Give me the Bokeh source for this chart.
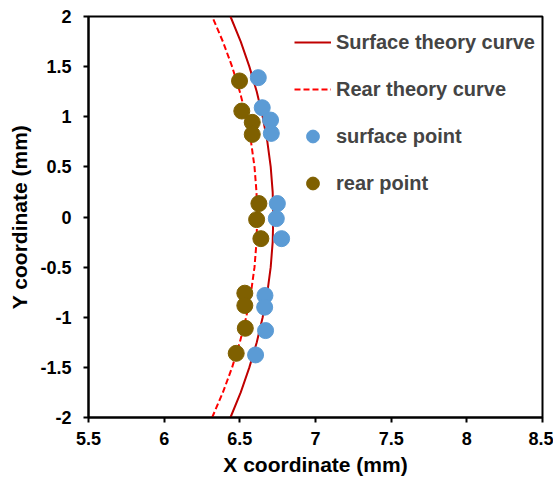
from bokeh.plotting import figure
from bokeh.models import FixedTicker, Legend
from bokeh.embed import file_html
from bokeh.resources import INLINE

# ---- data ----
curve_y = [-2.0, -1.75, -1.5, -1.25, -1.0, -0.75, -0.5, -0.25, 0.0,
           0.25, 0.5, 0.75, 1.0, 1.25, 1.5, 1.75, 2.0]
surface_curve_x = [6.438, 6.506, 6.563, 6.612, 6.651, 6.682, 6.704, 6.717, 6.721,
                   6.717, 6.704, 6.682, 6.651, 6.612, 6.563, 6.506, 6.438]
rear_curve_x = [6.317, 6.388, 6.449, 6.500, 6.542, 6.574, 6.597, 6.610, 6.615,
                6.610, 6.597, 6.574, 6.542, 6.500, 6.449, 6.388, 6.317]

surface_pt_x = [6.622, 6.648, 6.703, 6.708, 6.748, 6.741, 6.776, 6.666, 6.664, 6.670, 6.604]
surface_pt_y = [1.39, 1.09, 0.967, 0.834, 0.134, -0.016, -0.216, -0.783, -0.90, -1.133, -1.376]

rear_pt_x = [6.498, 6.513, 6.582, 6.582, 6.626, 6.611, 6.639, 6.533, 6.533, 6.536, 6.476]
rear_pt_y = [1.357, 1.057, 0.944, 0.824, 0.134, -0.026, -0.216, -0.76, -0.883, -1.11, -1.36]

x_ticks = [5.5, 6.0, 6.5, 7.0, 7.5, 8.0, 8.5]
x_tick_labels = ["5.5", "6", "6.5", "7", "7.5", "8", "8.5"]
y_ticks = [-2.0, -1.5, -1.0, -0.5, 0.0, 0.5, 1.0, 1.5, 2.0]
y_tick_labels = ["-2", "-1.5", "-1", "-0.5", "0", "0.5", "1", "1.5", "2"]

FONT = "Liberation Sans"

p = figure(width=553, height=483, x_range=(5.5, 8.5), y_range=(-2, 2),
           output_backend="svg", toolbar_location=None,
           min_border_left=88, min_border_right=11, min_border_top=16, min_border_bottom=66)
p.xgrid.visible = False
p.ygrid.visible = False
p.outline_line_color = "black"
p.outline_line_width = 2
p.background_fill_color = "white"
p.border_fill_color = "white"

r1 = p.line(surface_curve_x, curve_y, line_color="#C00000", line_width=2)
r2 = p.line(rear_curve_x, curve_y, line_color="#FF0000", line_width=2, line_dash="6 3")
r3 = p.scatter(surface_pt_x, surface_pt_y, size=16, fill_color="#5B9BD5", line_color="#5B9BD5")
r4 = p.scatter(rear_pt_x, rear_pt_y, size=16, fill_color="#7F6000", line_color="#7F6000")

for ax, ticks, labels, title in ((p.xaxis[0], x_ticks, x_tick_labels, "X coordinate (mm)"),
                                 (p.yaxis[0], y_ticks, y_tick_labels, "Y coordinate (mm)")):
    ax.ticker = FixedTicker(ticks=ticks)
    ax.major_label_overrides = {t: l for t, l in zip(ticks, labels)}
    ax.minor_tick_line_color = None
    ax.major_tick_in = 0
    ax.major_tick_out = 5
    ax.major_tick_line_width = 2
    ax.axis_line_width = 2
    ax.axis_line_color = "black"
    ax.major_tick_line_color = "black"
    ax.major_label_text_font = FONT
    ax.major_label_text_font_style = "bold"
    ax.major_label_text_font_size = "18px"
    ax.major_label_text_color = "black"
    ax.axis_label = title
    ax.axis_label_text_font = FONT
    ax.axis_label_text_font_style = "bold"
    ax.axis_label_text_font_size = "21px"
    ax.axis_label_text_color = "black"
p.xaxis[0].major_label_standoff = 9
p.yaxis[0].major_label_standoff = 12
p.xaxis[0].axis_label_standoff = 5
p.yaxis[0].axis_label_standoff = 6

legend = Legend(items=[("Surface theory curve", [r1]), ("Rear theory curve", [r2]),
                       ("surface point", [r3]), ("rear point", [r4])],
                location=(206, 218))
legend.border_line_color = None
legend.background_fill_alpha = 0
legend.padding = 0
legend.margin = 0
legend.glyph_width = 37
legend.glyph_height = 32
legend.label_height = 32
legend.spacing = 15
legend.label_standoff = 5
legend.label_text_font = FONT
legend.label_text_font_style = "bold"
legend.label_text_font_size = "20px"
p.add_layout(legend)

open("out.html", "w").write(file_html(p, INLINE))
